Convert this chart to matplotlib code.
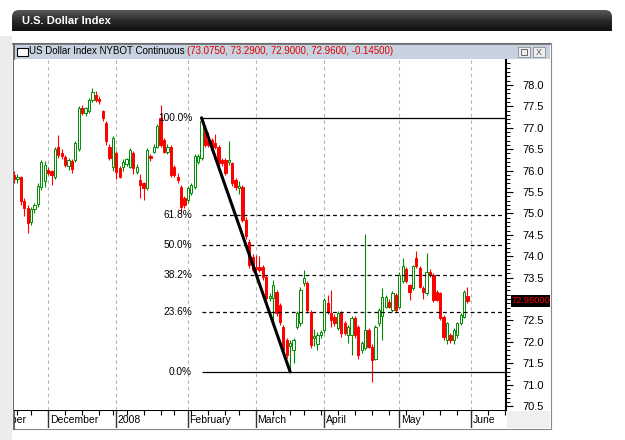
import numpy as np
import pandas as pd
import matplotlib
matplotlib.use("Agg")
import matplotlib.pyplot as plt
from matplotlib.patches import Rectangle, FancyBboxPatch
from matplotlib.colors import LinearSegmentedColormap
from matplotlib.ticker import MultipleLocator, FormatStrFormatter

# trading calendar (exchange holidays removed)
holidays = ["2007-11-22", "2007-12-25", "2008-01-01", "2008-01-21",
            "2008-02-18", "2008-03-21", "2008-05-26"]
first_day = "2007-11-16"
month_labels = ["November", "December", "2008", "February", "March", "April", "May", "June"]

# daily OHLC
opens = [
    75.90, 75.80, 75.84, 75.28, 75.12, 74.80, 75.10, 75.22, 75.62, 75.75,
    76.02, 75.98, 75.86, 76.55, 76.40, 76.32, 76.10, 76.22, 76.25, 76.50,
    77.46, 77.34, 77.40, 77.65, 77.76, 77.68, 77.38, 77.10, 76.56, 76.08,
    76.40, 76.05, 76.09, 76.15, 76.09, 76.40, 75.97, 75.78, 75.70, 75.59,
    76.33, 76.44, 76.56, 77.22, 76.71, 76.44, 76.56, 76.09, 75.86, 75.62,
    75.35, 75.31, 75.47, 75.62, 76.21, 76.29, 76.95, 76.71, 76.71, 76.64,
    76.56, 76.25, 76.25, 76.19, 76.17, 75.78, 75.60, 75.62, 74.85, 74.34,
    73.99, 73.75, 73.75, 73.75, 73.52, 73.02, 73.02, 73.17, 72.85, 72.35,
    72.04, 71.90, 71.81, 72.35, 72.43, 73.37, 73.37, 72.70, 72.10, 71.95,
    72.16, 72.28, 72.90, 72.67, 72.59, 72.32, 72.67, 72.43, 72.16, 72.16,
    72.55, 72.35, 71.81, 71.85, 72.28, 71.89, 71.61, 72.43, 72.60, 72.82,
    72.94, 72.74, 73.09, 72.82, 73.41, 73.69, 73.33, 73.25, 73.95, 73.72,
    73.25, 73.13, 73.64, 73.56, 73.17, 73.13, 72.59, 72.04, 72.16, 72.04,
    72.16, 72.43, 72.59, 73.075]
highs = [
    75.98, 75.92, 75.88, 75.35, 75.20, 75.15, 75.25, 75.70, 76.25, 76.22,
    76.08, 76.02, 76.55, 76.83, 76.50, 76.36, 76.30, 76.26, 76.70, 77.50,
    77.52, 77.48, 77.70, 77.92, 77.86, 77.75, 77.42, 77.15, 76.62, 76.80,
    76.45, 76.10, 76.28, 76.30, 76.52, 76.45, 76.15, 75.92, 75.74, 76.52,
    76.38, 76.62, 77.08, 77.53, 76.75, 76.62, 76.60, 76.12, 75.95, 75.66,
    75.40, 75.65, 75.70, 76.38, 76.38, 77.23, 77.05, 76.91, 76.75, 76.85,
    76.60, 76.30, 76.30, 76.68, 76.20, 75.82, 75.75, 75.66, 74.92, 74.40,
    74.05, 74.03, 74.00, 73.80, 73.56, 73.15, 73.44, 73.22, 72.90, 72.40,
    72.10, 72.05, 72.10, 72.72, 73.28, 73.68, 73.42, 72.74, 72.30, 72.22,
    72.28, 73.02, 73.10, 73.20, 72.65, 72.72, 72.72, 72.48, 72.40, 72.60,
    72.60, 72.40, 72.02, 74.53, 72.32, 71.95, 72.40, 72.80, 73.25, 73.10,
    73.00, 73.18, 73.15, 73.62, 73.95, 73.75, 73.36, 73.80, 74.11, 73.76,
    73.30, 74.08, 73.70, 73.60, 73.22, 73.17, 72.63, 72.47, 72.20, 72.32,
    72.47, 72.68, 73.20, 73.29]
lows = [
    75.72, 75.70, 75.20, 74.95, 74.54, 74.72, 75.00, 75.15, 75.55, 75.62,
    75.90, 75.66, 75.80, 76.30, 76.28, 76.08, 76.02, 75.95, 76.20, 76.45,
    77.30, 77.28, 77.35, 77.60, 77.60, 77.55, 77.15, 76.60, 76.25, 75.98,
    75.80, 75.82, 76.00, 76.10, 76.05, 75.92, 75.92, 75.35, 75.31, 75.55,
    76.22, 76.40, 76.52, 76.55, 76.40, 76.38, 75.85, 75.85, 75.70, 75.00,
    75.12, 75.25, 75.42, 75.58, 76.15, 76.25, 76.55, 76.55, 76.42, 76.50,
    76.10, 76.10, 75.90, 76.12, 75.65, 75.55, 75.45, 74.80, 74.40, 73.72,
    73.62, 73.65, 73.62, 73.45, 72.95, 72.95, 72.45, 72.60, 72.40, 71.75,
    71.62, 71.30, 71.50, 72.30, 72.38, 73.30, 72.68, 71.85, 71.90, 71.80,
    72.10, 72.20, 72.65, 72.35, 72.38, 72.28, 72.12, 72.15, 71.98, 71.70,
    72.10, 71.61, 71.75, 71.80, 71.85, 71.07, 71.58, 72.38, 72.05, 72.78,
    72.78, 72.70, 72.70, 72.78, 73.38, 73.38, 72.98, 73.20, 73.72, 73.25,
    73.00, 73.10, 73.52, 72.92, 72.95, 72.50, 72.05, 71.95, 71.98, 71.96,
    72.10, 72.40, 72.55, 72.90]
closes = [
    75.80, 75.84, 75.28, 75.12, 74.78, 75.10, 75.20, 75.65, 76.20, 76.12,
    75.95, 75.90, 76.50, 76.36, 76.34, 76.14, 76.25, 76.04, 76.64, 77.46,
    77.34, 77.45, 77.65, 77.84, 77.65, 77.62, 77.22, 76.68, 76.30, 76.76,
    75.97, 75.86, 76.21, 76.26, 76.48, 76.05, 76.09, 75.66, 75.59, 76.48,
    76.29, 76.56, 77.03, 76.60, 76.44, 76.56, 75.90, 75.90, 75.78, 75.16,
    75.20, 75.59, 75.66, 76.33, 76.33, 77.15, 76.60, 76.60, 76.48, 76.56,
    76.17, 76.17, 75.94, 76.25, 75.70, 75.62, 75.64, 74.85, 74.46, 73.79,
    73.68, 73.70, 73.68, 73.52, 73.02, 73.07, 73.33, 72.67, 72.47, 71.81,
    71.69, 71.97, 72.04, 72.67, 73.20, 73.48, 72.74, 71.93, 72.14, 72.16,
    72.22, 72.98, 72.70, 72.51, 72.43, 72.67, 72.20, 72.20, 72.35, 72.55,
    72.16, 71.69, 71.97, 72.28, 71.89, 71.57, 72.35, 72.74, 73.05, 73.05,
    72.82, 73.13, 72.74, 73.56, 73.76, 73.41, 73.17, 73.76, 73.76, 73.29,
    73.17, 73.64, 73.56, 72.98, 72.98, 72.55, 72.12, 72.43, 72.04, 72.28,
    72.43, 72.63, 73.17, 72.96]

# Fibonacci retracement anchors (swing high / swing low dates)
fib_high_date = "2008-02-07"
fib_low_date = "2008-03-17"
fib_ratios = [1.0, 0.618, 0.5, 0.382, 0.236, 0.0]

title_name = "US Dollar Index NYBOT Continuous "
title_quote = "(73.0750, 73.2900, 72.9000, 72.9600, -0.14500)"
header_text = "U.S. Dollar Index"

plt.rcParams["font.family"] = ["Liberation Sans", "DejaVu Sans"]

RED = "#ff0000"
GREEN = "#008a00"

# calendar positions
cal = pd.bdate_range("2007-11-01", "2008-06-30")
cal = cal[~cal.isin(pd.to_datetime(holidays))]
start = cal.get_loc(pd.Timestamp(first_day))
pos = np.arange(len(cal)) - start
xs = pos[start:start + len(closes)]
dates = cal[start:start + len(closes)]

cs = pd.Series(pos, index=cal)
month_pos = cs.groupby(cal.to_period("M")).first().values[:len(month_labels)]
week_pos = cs.groupby(cal.to_period("W")).first().values

W, H = 625, 440
fig = plt.figure(figsize=(6.25, 4.4), dpi=100)
fig.patch.set_facecolor("white")


def box(x0, y0, x1, y1):
    return [x0 / W, 1 - y1 / H, (x1 - x0) / W, (y1 - y0) / H]


# page decorations in pixel coordinates
bg = fig.add_axes([0, 0, 1, 1])
bg.axis("off")

grad = np.linspace(0, 1, 60).reshape(-1, 1)
cmap = LinearSegmentedColormap.from_list("hdr", ["#5a5a5a", "#2a2a2a", "#101010"])
im = bg.imshow(grad, cmap=cmap, extent=(12, 612, 31, 10), aspect="auto", zorder=1)
clip = FancyBboxPatch((12, 10), 600, 30, boxstyle="round,pad=0,rounding_size=7",
                      facecolor="none", edgecolor="none")
bg.add_patch(clip)
im.set_clip_path(clip)
bg.text(22, 21, header_text, color="white", fontsize=8, fontweight="bold",
        va="center", ha="left", zorder=3)

bg.add_patch(Rectangle((0, 36), 12, 404, facecolor="#ececec", edgecolor="none"))
bg.add_patch(Rectangle((12.5, 43.5), 538, 386, facecolor="white",
                       edgecolor="#8a8a8a", lw=0.8))
bg.add_patch(Rectangle((13, 44), 537, 15, facecolor="#c6d2df", edgecolor="none"))
bg.plot([13, 550], [44.5, 44.5], color="#6a6a6a", lw=1.2)
bg.plot([13.5, 13.5], [44, 429], color="#6a6a6a", lw=1.5)
bg.add_patch(Rectangle((17, 48), 11, 8, facecolor="white", edgecolor="black", lw=0.8))
t1 = bg.text(29, 56.5, title_name, fontsize=7, va="bottom", ha="left")
bg.annotate(title_quote, xy=(1, 0), xycoords=t1, fontsize=7, color="#e00000",
            va="bottom", ha="left")
bg.add_patch(Rectangle((518, 47), 12, 10, facecolor="#eeeeee", edgecolor="#8c8c8c", lw=0.6))
bg.add_patch(Rectangle((521, 49), 6, 6, facecolor="none", edgecolor="#555555", lw=0.6))
bg.add_patch(Rectangle((533, 47), 12, 10, facecolor="#eeeeee", edgecolor="#8c8c8c", lw=0.6))
bg.text(539, 52.3, "X", fontsize=6.5, color="#555555", ha="center", va="center")
bg.add_patch(Rectangle((507, 411), 43, 17, facecolor="#efefef", edgecolor="none"))
bg.set_xlim(0, W)
bg.set_ylim(H, 0)

# price chart
ax = fig.add_axes(box(14, 60, 506, 410))
ax.set_facecolor("white")
ax.set_xlim(0, 144.3)
ax.set_ylim(70.41, 78.58)

for p in month_pos:
    ax.axvline(p, color="#b4b4b4", lw=0.8, ls=(0, (3, 3)), zorder=1)

for x, o, h, l, c in zip(xs, opens, highs, lows, closes):
    up = c >= o
    col = GREEN if up else RED
    ax.vlines(x, l, h, color=col, lw=0.8, zorder=2)
    ax.add_patch(Rectangle((x - 0.33, min(o, c)), 0.66, max(abs(c - o), 0.02),
                           facecolor="white" if up else RED, edgecolor=col,
                           lw=0.7, zorder=3))

# Fibonacci retracement
i_hi = dates.get_loc(pd.Timestamp(fib_high_date))
i_lo = dates.get_loc(pd.Timestamp(fib_low_date))
hi, lo = highs[i_hi], lows[i_lo]
x_hi, x_lo = xs[i_hi], xs[i_lo]
x_end = ax.get_xlim()[1]
for r in fib_ratios:
    lvl = lo + r * (hi - lo)
    ls = "-" if r in (0.0, 1.0) else (0, (3, 2.5))
    ax.hlines(lvl, x_hi, x_end, color="black", lw=0.9, ls=ls, zorder=4)
    ax.annotate(f"{r * 100:.1f}%", xy=(x_hi, lvl), xytext=(-6.8, 0),
                textcoords="offset points", ha="right", va="center", fontsize=7.3)
ax.plot([x_hi, x_lo], [hi, lo], color="black", lw=2.2, solid_capstyle="round", zorder=5)

ax.yaxis.tick_right()
ax.set_yticks(np.arange(70.5, 78.01, 0.5))
ax.yaxis.set_minor_locator(MultipleLocator(0.1))
ax.yaxis.set_major_formatter(FormatStrFormatter("%.1f"))
ax.tick_params(axis="y", which="major", direction="out", length=4.8, width=0.8,
               pad=7, labelsize=8)
ax.tick_params(axis="y", which="minor", direction="out", length=2.6, width=0.7)
ax.set_xticks([])
for s in ["left", "top", "bottom"]:
    ax.spines[s].set_visible(False)
ax.spines["right"].set_linewidth(1.5)

# last price marker on the axis
axr = fig.add_axes(box(507, 60, 550, 410))
axr.axis("off")
axr.set_xlim(0, 43)
axr.set_ylim(ax.get_ylim())
last = closes[-1]
axr.add_patch(Rectangle((4, last - 0.14), 39, 0.28, facecolor="black", edgecolor="none"))
axr.text(4.5, last, f"{last:.5f}", color=RED, fontsize=6.7, va="center", ha="left",
         clip_on=True)

# date strip
axd = fig.add_axes(box(14, 410, 506, 428))
axd.set_xlim(ax.get_xlim())
axd.set_ylim(0, 1)
axd.axis("off")
axd.axhline(1, color="black", lw=1.5)
axd.vlines(week_pos, 0.72, 1, color="black", lw=0.8)
axd.vlines(month_pos, 0, 1, color="#333333", lw=1.0)
for p, lab in zip(month_pos, month_labels):
    axd.text(p + 0.45, 0.42, lab, fontsize=7.5, ha="left", va="center", clip_on=True)

fig.savefig("out.png", dpi=100)
